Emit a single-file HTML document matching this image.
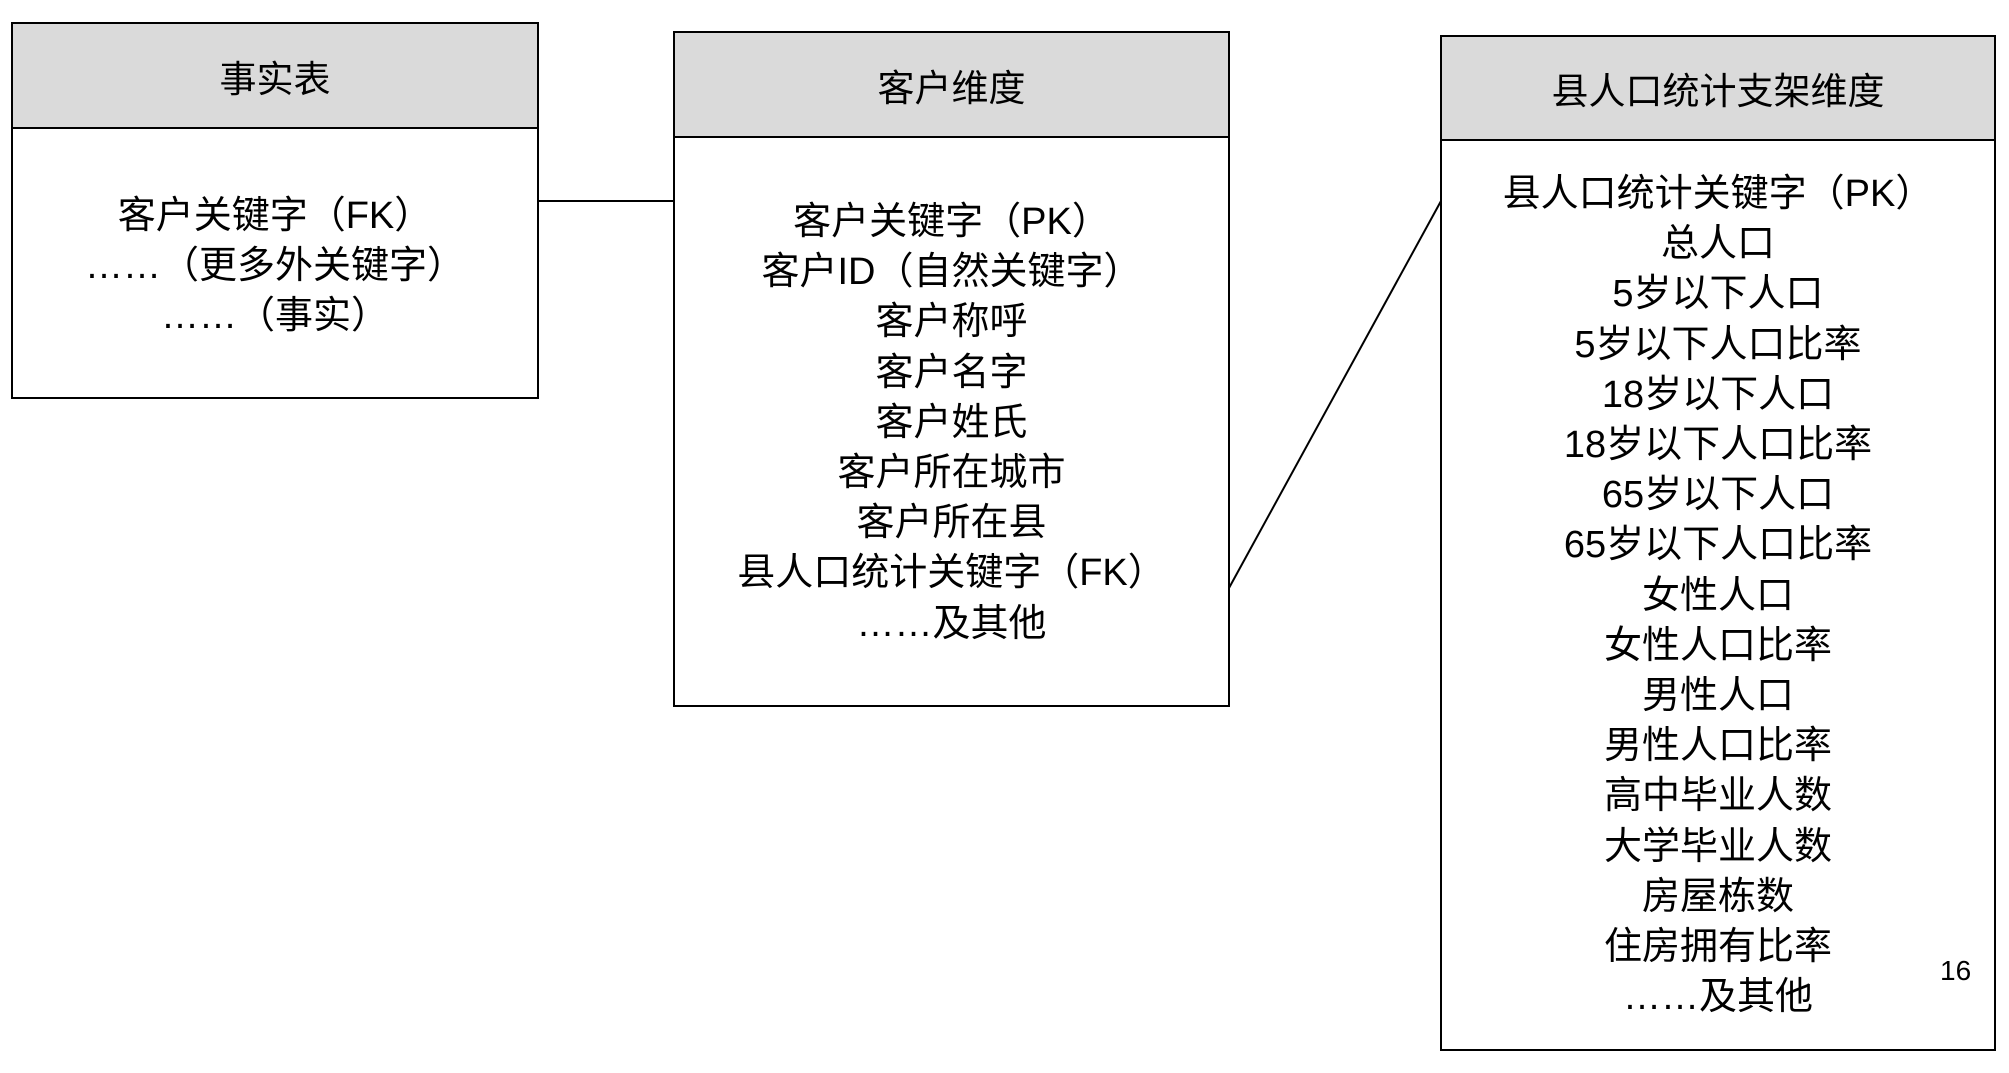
<!DOCTYPE html>
<html><head><meta charset="utf-8"><style>
body{margin:0;width:2009px;height:1073px;background:#fff;position:relative;overflow:hidden;font-family:"Liberation Sans","Noto Sans CJK SC",sans-serif;color:#000}
.box{position:absolute;border:2px solid #000;box-sizing:border-box;background:#fff}
.hd{position:absolute;left:0;right:0;top:0;background:#dadada;border-bottom:2px solid #000;display:flex;align-items:center;justify-content:center;font-size:37px}
.t{position:absolute;left:0;right:0;text-align:center;font-size:38px;line-height:50.2px;white-space:nowrap}
</style></head><body>
<svg width="2009" height="1073" style="position:absolute;left:0;top:0">
<line x1="538" y1="201" x2="674" y2="201" stroke="#000" stroke-width="2"/>
<line x1="1229" y1="588" x2="1441" y2="201" stroke="#000" stroke-width="2"/>
</svg>
<div class="box" style="left:11px;top:22px;width:528px;height:377px">
<div class="hd" style="height:103px">事实表</div>
<div class="t" style="top:167px">客户关键字（FK）<br>……（更多外关键字）<br>……（事实）</div>
</div>
<div class="box" style="left:673px;top:31px;width:557px;height:676px">
<div class="hd" style="height:103px">客户维度</div>
<div class="t" style="top:164px">客户关键字（PK）<br>客户ID（自然关键字）<br>客户称呼<br>客户名字<br>客户姓氏<br>客户所在城市<br>客户所在县<br>县人口统计关键字（FK）<br>……及其他</div>
</div>
<div class="box" style="left:1440px;top:35px;width:556px;height:1016px">
<div class="hd" style="height:102px">县人口统计支架维度</div>
<div class="t" style="top:132px">县人口统计关键字（PK）<br>总人口<br>5岁以下人口<br>5岁以下人口比率<br>18岁以下人口<br>18岁以下人口比率<br>65岁以下人口<br>65岁以下人口比率<br>女性人口<br>女性人口比率<br>男性人口<br>男性人口比率<br>高中毕业人数<br>大学毕业人数<br>房屋栋数<br>住房拥有比率<br>……及其他</div>
<div style="position:absolute;left:498px;top:918px;font-size:28px">16</div>
</div>
</body></html>
